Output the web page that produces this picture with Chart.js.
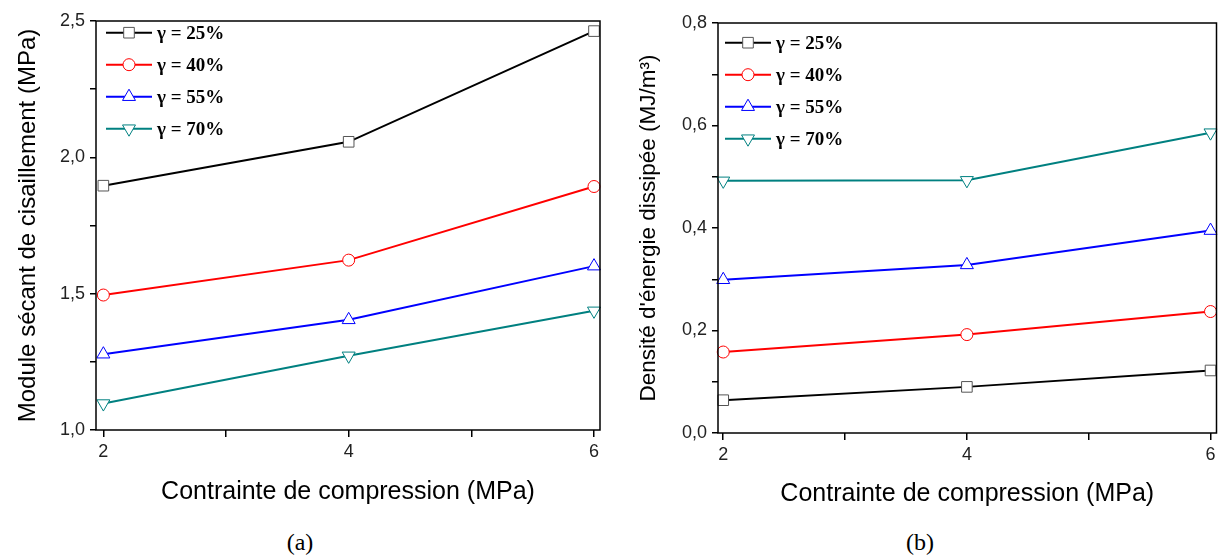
<!DOCTYPE html>
<html lang="fr">
<head>
<meta charset="utf-8">
<title>Module sécant et densité d'énergie dissipée</title>
<script src="https://cdn.jsdelivr.net/npm/chart.js@4.4.0/dist/chart.umd.min.js"></script>
<style>
    html, body { margin: 0; padding: 0; background: #fff; }
    #wrap { position: relative; width: 1225px; height: 558px; overflow: hidden; }
    canvas { position: absolute; top: 0; }
    #chartA { left: 0; }
    #chartB { left: 620px; }
    .caption {
        position: absolute; top: 529px; line-height: 28px;
        font: 24px 'Liberation Serif', 'Times New Roman', serif; color: #000;
        transform: translateX(-50%);
    }
</style>
</head>
<body>
<div id="wrap">
    <canvas id="chartA" width="612" height="515"></canvas>
    <canvas id="chartB" width="605" height="515"></canvas>
    <div class="caption" style="left:300px">(a)</div>
    <div class="caption" style="left:920px">(b)</div>
</div>
<script>
// --- 1. DONNEES ---
const pressions = [2, 4, 6];                       // contrainte de compression (MPa)
const labelsGamma = ['γ = 25%', 'γ = 40%', 'γ = 55%', 'γ = 70%'];

// (a) module sécant de cisaillement (MPa)
const moduleG25 = [1.896, 2.057, 2.463];
const moduleG40 = [1.495, 1.623, 1.893];
const moduleG55 = [1.278, 1.404, 1.601];
const moduleG70 = [1.097, 1.272, 1.437];

// (b) densité d'énergie dissipée (MJ/m3)
const energieG25 = [0.064, 0.090, 0.122];
const energieG40 = [0.158, 0.192, 0.237];
const energieG55 = [0.299, 0.328, 0.395];
const energieG70 = [0.492, 0.493, 0.586];

// graduations
const ticksX = [2, 3, 4, 5, 6];
const ticksXLabels = [2, 4, 6];
const ticksModule = [1.0, 1.25, 1.5, 1.75, 2.0, 2.25, 2.5];
const ticksModuleLabels = [1.0, 1.5, 2.0, 2.5];
const ticksEnergie = [0, 0.1, 0.2, 0.3, 0.4, 0.5, 0.6, 0.7, 0.8];
const ticksEnergieLabels = [0, 0.2, 0.4, 0.6, 0.8];

// --- 2. STYLES DES SERIES ---
const couleurs = ['#000000', '#ff0000', '#0000ff', '#008080'];
const bordsMarqueur = ['#555555', '#ff0000', '#0000ff', '#008080'];
const marqueurs = ['rect', 'circle', 'triangle', 'triangle'];
const rotations = [0, 0, 0, 180];
const rayons = [7.5, 6, 7.5, 7.5];

const virgule = v => v.toFixed(1).replace('.', ',');

// --- 3. PLUGINS (cadre + légende interne) ---
const cadre = {
    id: 'cadre',
    afterDatasetsDraw(chart) {
        const { ctx, chartArea: a } = chart;
        ctx.save();
        ctx.strokeStyle = '#000';
        ctx.lineWidth = 1.5;
        ctx.strokeRect(a.left, a.top, a.right - a.left, a.bottom - a.top);
        ctx.restore();
    }
};

const legendeInterne = {
    id: 'legendeInterne',
    afterDraw(chart, args, opts) {
        const { ctx, chartArea } = chart;
        ctx.save();
        chart.data.datasets.forEach((ds, i) => {
            const y = chartArea.top + opts.top + i * opts.pas;
            const x0 = chartArea.left + opts.left;
            ctx.strokeStyle = ds.borderColor;
            ctx.lineWidth = ds.borderWidth;
            ctx.beginPath();
            ctx.moveTo(x0, y);
            ctx.lineTo(x0 + 46, y);
            ctx.stroke();

            ctx.fillStyle = '#fff';
            ctx.strokeStyle = ds.pointBorderColor;
            ctx.lineWidth = 1;
            Chart.helpers.drawPoint(ctx, {
                pointStyle: ds.pointStyle, radius: ds.pointRadius,
                rotation: ds.pointRotation, borderWidth: 1
            }, x0 + 23, y);

            ctx.fillStyle = '#000';
            ctx.font = 'bold 19px "Liberation Serif", "Times New Roman", serif';
            ctx.textBaseline = 'middle';
            ctx.fillText(ds.label, x0 + 51, y + 1);
        });
        ctx.restore();
    }
};

// --- 4. CONSTRUCTION D'UN GRAPHIQUE ---
function creerGraphique(id, series, reglages) {
    const datasets = series.map((valeurs, i) => ({
        label: labelsGamma[i],
        data: pressions.map((p, k) => ({ x: p, y: valeurs[k] })),
        borderColor: couleurs[i],
        borderWidth: 2,
        pointStyle: marqueurs[i],
        pointRotation: rotations[i],
        pointRadius: rayons[i],
        pointBorderColor: bordsMarqueur[i],
        pointBorderWidth: 1,
        pointBackgroundColor: '#fff',
        tension: 0,
        clip: false
    }));

    const famille = '"Liberation Sans", Arial, sans-serif';
    const policeAxe = { family: famille, size: 18 };

    return new Chart(document.getElementById(id), {
        type: 'line',
        data: { datasets },
        options: {
            responsive: false,
            animation: false,
            devicePixelRatio: 1,
            layout: { padding: { top: reglages.haut, right: reglages.droite, left: 0, bottom: 0 } },
            plugins: {
                legend: { display: false },
                tooltip: { enabled: false },
                legendeInterne: reglages.legende
            },
            scales: {
                x: {
                    type: 'linear',
                    min: reglages.xMin,
                    max: reglages.xMax,
                    afterBuildTicks: s => { s.ticks = ticksX.map(v => ({ value: v })); },
                    afterFit: s => { s.height = reglages.hauteurX; },
                    border: { display: false },
                    grid: { drawOnChartArea: false, drawTicks: true, tickLength: 7, color: '#000', lineWidth: 1.5 },
                    ticks: {
                        padding: 4, color: '#222', font: policeAxe, maxRotation: 0,
                        callback: v => ticksXLabels.includes(v) ? String(v) : ''
                    },
                    title: {
                        display: true, text: 'Contrainte de compression (MPa)',
                        color: '#000', font: { family: famille, size: 25 },
                        padding: { bottom: reglages.titreXBas, top: 0 }
                    }
                },
                y: {
                    type: 'linear',
                    min: reglages.yMin,
                    max: reglages.yMax,
                    afterBuildTicks: s => { s.ticks = reglages.ticksY.map(v => ({ value: v })); },
                    afterFit: s => { s.width = reglages.largeurY; },
                    border: { display: false },
                    grid: { drawOnChartArea: false, drawTicks: true, tickLength: 6, color: '#000', lineWidth: 1.5 },
                    ticks: {
                        padding: 5, color: '#222', font: policeAxe,
                        callback: v => reglages.labelsY.includes(v) ? virgule(v) : ''
                    },
                    title: {
                        display: true, text: reglages.titreY,
                        color: '#000', font: { family: famille, size: reglages.tailleTitreY },
                        padding: { top: reglages.titreYGauche, bottom: 0 }
                    }
                }
            }
        },
        plugins: [cadre, legendeInterne]
    });
}

// --- 5. LES DEUX FIGURES ---
creerGraphique('chartA', [moduleG25, moduleG40, moduleG55, moduleG70], {
    haut: 21, droite: 12, largeurY: 96, hauteurX: 85,
    xMin: 1.94, xMax: 6.049, yMin: 1.0, yMax: 2.5,
    ticksY: ticksModule, labelsY: ticksModuleLabels,
    titreY: 'Module sécant de cisaillement (MPa)', tailleTitreY: 24,
    titreXBas: 8, titreYGauche: 14,
    legende: { left: 10, top: 11.7, pas: 32 }
});

creerGraphique('chartB', [energieG25, energieG40, energieG55, energieG70], {
    haut: 23, droite: 4, largeurY: 98, hauteurX: 82,
    xMin: 1.957, xMax: 6.049, yMin: 0, yMax: 0.8,
    ticksY: ticksEnergie, labelsY: ticksEnergieLabels,
    titreY: "Densité d'énergie dissipée (MJ/m³)", tailleTitreY: 22.5,
    titreXBas: 6, titreYGauche: 15,
    legende: { left: 7, top: 19.7, pas: 32 }
});
</script>
</body>
</html>
